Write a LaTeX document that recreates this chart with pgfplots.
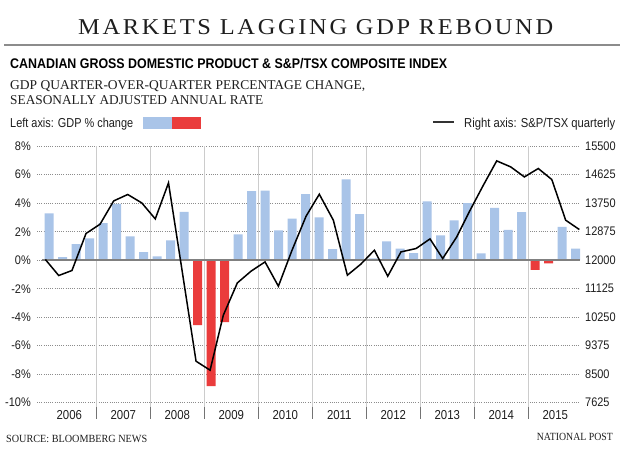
\documentclass[border=0pt]{standalone}
\usepackage{pgfplots}
\pgfplotsset{compat=1.18}
\usepackage{graphicx}
\usepackage{fontspec}
\setmainfont{Liberation Serif}
\newfontfamily\sansfont{Liberation Sans}
\newfontfamily\condsans[FakeStretch=0.88]{Liberation Sans}
\definecolor{barblue}{RGB}{169,196,232}
\definecolor{barred}{RGB}{234,60,60}
\definecolor{txt}{RGB}{30,30,30}

\begin{document}
\begin{tikzpicture}
\path[use as bounding box, fill=white] (0,0) rectangle (620bp,-471bp);
% ---- header ----
\node[anchor=base west, inner sep=0pt, text=txt] at (78bp,-35bp)
  {\resizebox{475bp}{\height}{\fontsize{22.7}{24}\selectfont\addfontfeatures{LetterSpace=11}MARKETS LAGGING GDP REBOUND}};
\draw[color=black!45, line width=1.5bp] (4bp,-45bp) -- (620bp,-45bp);
\node[anchor=base west, inner sep=0pt, text=black] at (10bp,-68.3bp)
  {\resizebox{437bp}{\height}{\sansfont\bfseries\fontsize{14}{16}\selectfont CANADIAN GROSS DOMESTIC PRODUCT \& S\&P/TSX COMPOSITE INDEX}};
\node[anchor=base west, inner sep=0pt, text=txt] at (10bp,-89.3bp)
  {\resizebox{355bp}{\height}{\fontsize{13.5}{15}\selectfont GDP QUARTER-OVER-QUARTER PERCENTAGE CHANGE,}};
\node[anchor=base west, inner sep=0pt, text=txt] at (10bp,-104.3bp)
  {\resizebox{253bp}{\height}{\fontsize{13.5}{15}\selectfont SEASONALLY ADJUSTED ANNUAL RATE}};
% ---- legend ----
\node[anchor=base west, inner sep=0pt, text=txt] at (10bp,-127.7bp)
  {\resizebox{123bp}{\height}{\sansfont\fontsize{13}{15}\selectfont Left axis: GDP \% change}};
\fill[barblue] (143bp,-117bp) rectangle (172bp,-129bp);
\fill[barred] (172bp,-117bp) rectangle (201bp,-129bp);
\draw[black!80, line width=1.6bp] (433bp,-122bp) -- (454bp,-122bp);
\node[anchor=base west, inner sep=0pt, text=txt] at (464bp,-127.7bp)
  {\resizebox{151bp}{\height}{\sansfont\fontsize{13}{15}\selectfont Right axis: S\&P/TSX quarterly}};
% ---- footer ----
\node[anchor=base west, inner sep=0pt, text=txt] at (6bp,-442.5bp)
  {\resizebox{141bp}{\height}{\fontsize{11}{12}\selectfont SOURCE: BLOOMBERG NEWS}};
\node[anchor=base east, inner sep=0pt, text=txt] at (613bp,-440.5bp)
  {\resizebox{76bp}{\height}{\fontsize{11}{12}\selectfont NATIONAL POST}};

% ---- left axis: GDP bars ----
\begin{axis}[
  at={(37bp,-402.7bp)}, anchor=south west,
  scale only axis, width=543bp, height=256.5bp,
  xmin=-0.89, xmax=39.33, ymin=-10, ymax=8,
  axis line style={draw=none},
  major tick length=0pt,
  ytick={-10,-8,-6,-4,-2,0,2,4,6,8},
  yticklabels={-10\%,-8\%,-6\%,-4\%,-2\%,0\%,2\%,4\%,6\%,8\%},
  yticklabel style={anchor=east, inner sep=0pt, xshift=-6bp, font=\condsans\fontsize{12.5}{14}\selectfont, text=txt},
  xtick={1.5,5.5,9.5,13.5,17.5,21.5,25.5,29.5,33.5,37.5},
  xticklabels={2006,2007,2008,2009,2010,2011,2012,2013,2014,2015},
  xticklabel style={anchor=base, inner sep=0pt, yshift=-16.3bp, font=\condsans\fontsize{13}{14}\selectfont, text=txt},
  ymajorgrids,
  grid style={black!45, line width=0.8bp, dash pattern=on 0.9bp off 1.3bp},
  clip=false,
  ybar, bar width=9bp, bar shift=0pt,
]
\pgfplotsinvokeforeach{3.5,7.5,11.5,15.5,19.5,23.5,27.5,31.5,35.5}{
  \draw[black!20, line width=1.4bp] (axis cs:#1,8) -- (axis cs:#1,-10.3);
  \draw[black!55, line width=1.4bp] (axis cs:#1,-10.3) -- (axis cs:#1,-11.14);
}
\addplot[fill=barblue, draw=none] coordinates {
 (0,3.28) (1,0.21) (2,1.12) (3,1.54) (4,2.6) (5,3.95) (6,1.68) (7,0.56)
 (8,0.26) (9,1.40) (10,3.39) (14,1.82) (15,4.84) (16,4.89) (17,2.1) (18,2.92)
 (19,4.63) (20,3.0) (21,0.77) (22,5.68) (23,3.23) (24,0.12) (25,1.33) (26,0.82)
 (27,0.5) (28,4.12) (29,1.75) (30,2.79) (31,4.01) (32,0.48) (33,3.67) (34,2.12)
 (35,3.38) (38,2.34) (39,0.82)
};
\addplot[fill=barred, draw=none] coordinates {
 (11,-4.56) (12,-8.84) (13,-4.35) (36,-0.67) (37,-0.23)
};
\draw[black!50, line width=2bp] (axis cs:-0.5,0) -- (axis cs:39.33,0);
\end{axis}

% ---- right axis: S&P/TSX ----
\begin{axis}[
  at={(37bp,-402.7bp)}, anchor=south west,
  scale only axis, width=543bp, height=256.5bp,
  xmin=-0.89, xmax=39.33, ymin=7625, ymax=15500,
  axis line style={draw=none},
  major tick length=0pt,
  xtick=\empty,
  scaled y ticks=false,
  ytick={7625,8500,9375,10250,11125,12000,12875,13750,14625,15500},
  yticklabels={7625,8500,9375,10250,11125,12000,12875,13750,14625,15500},
  yticklabel pos=right,
  yticklabel style={anchor=west, inner sep=0pt, xshift=5bp, font=\condsans\fontsize{12.5}{14}\selectfont, text=txt},
  clip=false,
]
\addplot[black, line width=1.5bp, mark=none] coordinates {
 (-0.27,12021) (0.72,11530) (1.70,11684) (2.74,12820) (3.78,13105)
 (4.79,13820) (5.83,14017) (6.87,13759) (7.87,13268) (8.85,14373)
 (9.87,11647) (10.89,8899) (11.93,8623) (12.91,10311) (13.95,11303)
 (14.96,11662) (16.0,11948) (16.99,11202) (18.0,12307) (19.04,13351)
 (20.02,14026) (21.06,13228) (22.10,11540) (23.09,11877) (24.10,12307)
 (25.09,11509) (26.07,12255) (27.19,12359) (28.22,12654) (29.16,12052)
 (30.20,12715) (31.19,13535) (32.17,14302) (33.16,15049) (34.2,14864)
 (35.21,14557) (36.24,14815) (37.24,14477) (38.27,13228) (39.28,12942)
};
\end{axis}
\end{tikzpicture}
\end{document}
